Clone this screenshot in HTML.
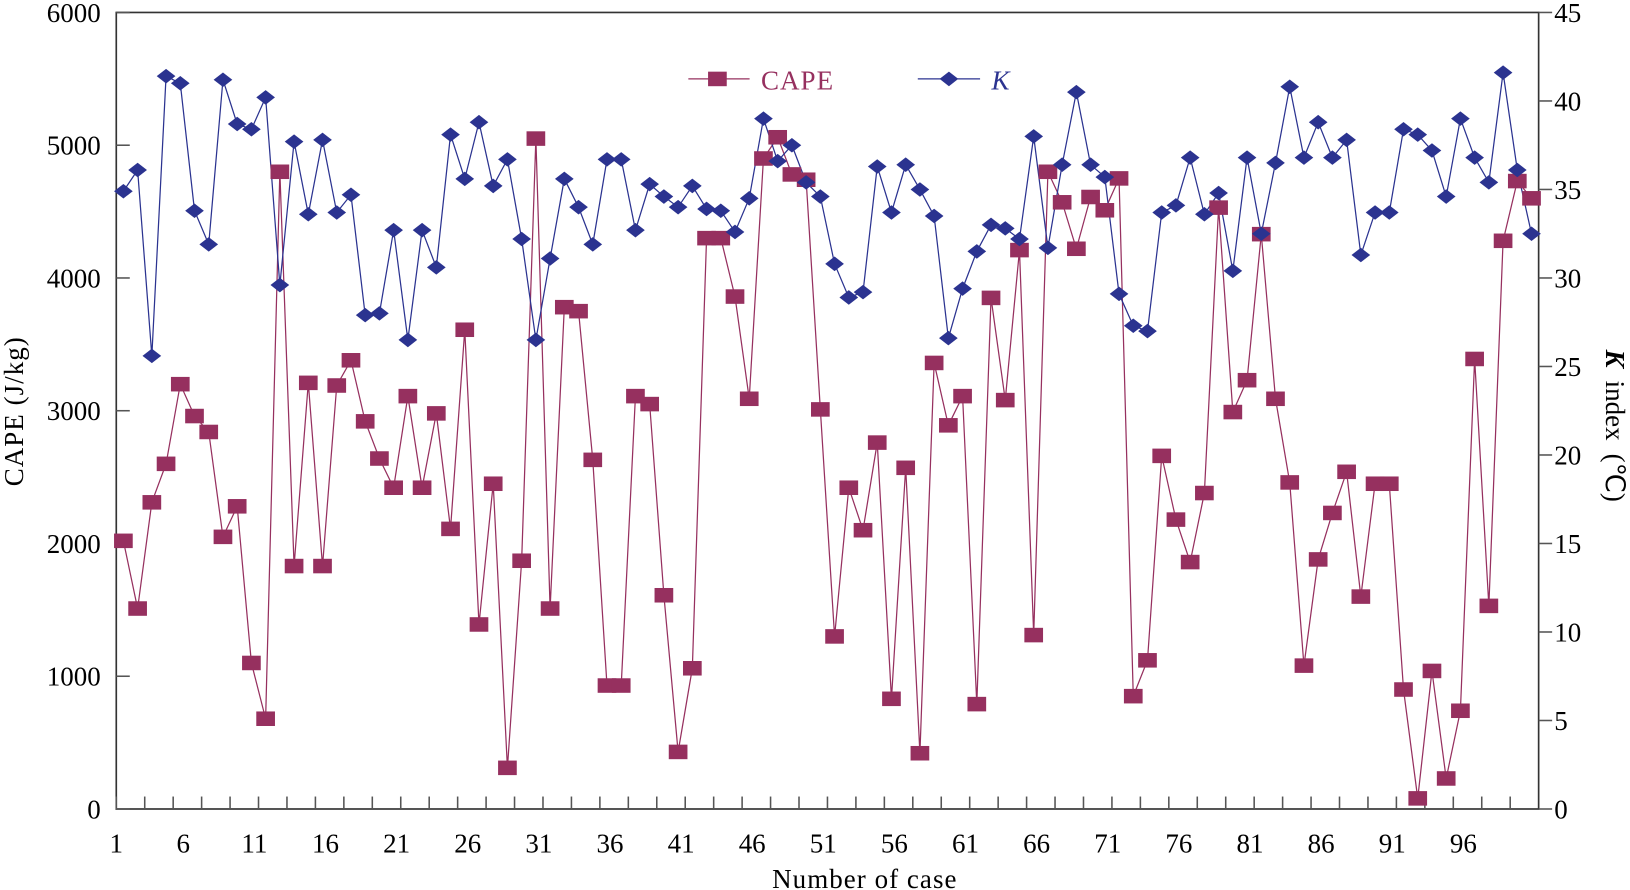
<!DOCTYPE html>
<html><head><meta charset="utf-8"><style>
html,body{margin:0;padding:0;background:#fff}
svg{display:block}
text{font-family:"Liberation Serif",serif}
</style></head><body>
<svg id="chart" width="1630" height="890" viewBox="0 0 1570 857" preserveAspectRatio="none" xmlns="http://www.w3.org/2000/svg">
<g id="axes"></g>
<g id="series"></g>
<g id="legend">
<line x1="663" y1="76" x2="722" y2="76" stroke="#96305F" stroke-width="1.2"/>
<rect x="682" y="69" width="18" height="14" fill="#96305F"/>
<text x="733" y="86" font-size="26" fill="#96305F" letter-spacing="1">CAPE</text>
<line x1="884" y1="76" x2="944" y2="76" stroke="#2B3390" stroke-width="1.2"/>
<path d="M905 76 L914 69 L923 76 L914 83 Z" fill="#2B3390"/>
<text x="955" y="86" font-size="26" font-style="italic" fill="#2B3390">K</text>
</g>
<text x="833" y="855" font-size="26" text-anchor="middle" letter-spacing="1">Number of case</text>
<text transform="translate(22,396) rotate(-90)" font-size="26" text-anchor="middle" letter-spacing="1">CAPE (J/kg)</text>
<text transform="translate(1547,410) rotate(90)" font-size="26" text-anchor="middle" word-spacing="6"><tspan font-style="italic" font-weight="bold">K</tspan> index (℃)</text>
</svg>
<script>
const cases = Array.from({length:100},(_,i)=>i+1);
const capeValues = [2020,1510,2310,2600,3200,2960,2840,2050,2280,1100,680,4800,1830,3210,1830,3190,3380,2920,2640,2420,3110,2420,2980,2110,3610,1390,2450,310,1870,5050,1510,3780,3750,2630,930,930,3110,3050,1610,430,1060,4300,4300,3860,3090,4900,5060,4780,4740,3010,1300,2420,2100,2760,830,2570,420,3360,2890,3110,790,3850,3080,4210,1310,4800,4570,4220,4610,4510,4750,850,1120,2660,2180,1860,2380,4530,2990,3230,4330,3090,2460,1080,1880,2230,2540,1600,2450,2450,900,80,1040,230,740,3390,1530,4280,4730,4600];
const kValues = [34.9,36.1,25.6,41.4,41.0,33.8,31.9,41.2,38.7,38.4,40.2,29.6,37.7,33.6,37.8,33.7,34.7,27.9,28.0,32.7,26.5,32.7,30.6,38.1,35.6,38.8,35.2,36.7,32.2,26.5,31.1,35.6,34.0,31.9,36.7,36.7,32.7,35.3,34.6,34.0,35.2,33.9,33.8,32.6,34.5,39.0,36.6,37.5,35.4,34.6,30.8,28.9,29.2,36.3,33.7,36.4,35.0,33.5,26.6,29.4,31.5,33.0,32.8,32.2,38.0,31.7,36.4,40.5,36.4,35.7,29.1,27.3,27.0,33.7,34.1,36.8,33.6,34.8,30.4,36.8,32.5,36.5,40.8,36.8,38.8,36.8,37.8,31.3,33.7,33.7,38.4,38.1,37.2,34.6,39.0,36.8,35.4,41.6,36.1,32.5];
const leftTicks = [0,1000,2000,3000,4000,5000,6000];
const rightTicks = [0,5,10,15,20,25,30,35,40,45];
const xTickLabels = [1,6,11,16,21,26,31,36,41,46,51,56,61,66,71,76,81,86,91,96];

const L=112,R=1482,T=12,B=779,N=100,step=(R-L)/N;
const xC=i=>L+(i-0.5)*step;
const xB=i=>L+(i-1)*step;
const yL=v=>B-(v/6000)*(B-T);
const yR=v=>B-(v/45)*(B-T);
const NS="http://www.w3.org/2000/svg";
function mk(tag,attrs,parent){const e=document.createElementNS(NS,tag);for(const k in attrs)e.setAttribute(k,attrs[k]);parent.appendChild(e);return e;}
const ax=document.getElementById('axes');
let e=mk('rect',{x:L,y:T,width:R-L,height:B-T,fill:'none',stroke:'#333','stroke-width':1.6},ax);


leftTicks.forEach(v=>{
  let t=mk('line',{x1:L,x2:L+13,y1:yL(v),y2:yL(v),stroke:'#555','stroke-width':1.5},ax);
  
  
  let s=mk('text',{x:97,y:yL(v)+9,'font-size':26,'text-anchor':'end'},ax);s.textContent=v;
  
  
});
rightTicks.forEach(v=>{
  let t=mk('line',{x1:R,x2:R+13,y1:yR(v),y2:yR(v),stroke:'#555','stroke-width':1.5},ax);
  
  
  let s=mk('text',{x:1497,y:yR(v)+9,'font-size':26},ax);s.textContent=v;
  
  
});
for(let i=1;i<=N;i+=2){
  let t=mk('line',{x1:xB(i),x2:xB(i),y1:B,y2:B-12,stroke:'#555','stroke-width':1.5},ax);
  
  
}
xTickLabels.forEach(c=>{
  let s=mk('text',{x:xB(c)-(c===1?0:4),y:821,'font-size':26,'text-anchor':'middle'},ax);s.textContent=c;
  
  
});
const sg=document.getElementById('series');
let cp=mk('polyline',{points:cases.map((c,i)=>xC(c)+','+yL(capeValues[i])).join(' '),fill:'none',stroke:'#96305F','stroke-width':1.2},sg);


let kp=mk('polyline',{points:cases.map((c,i)=>xC(c)+','+yR(kValues[i])).join(' '),fill:'none',stroke:'#2B3390','stroke-width':1.2},sg);


cases.forEach((c,i)=>{
  const x=xC(c),y=yL(capeValues[i]);
  let r=mk('rect',{x:x-9,y:y-7,width:18,height:14,fill:'#96305F'},sg);
  
  
});
cases.forEach((c,i)=>{
  const x=xC(c),y=yR(kValues[i]);
  let d=mk('path',{d:`M${x-9} ${y} L${x} ${y-7} L${x+9} ${y} L${x} ${y+7} Z`,fill:'#2B3390'},sg);
  
  
});
</script>
</body></html>
